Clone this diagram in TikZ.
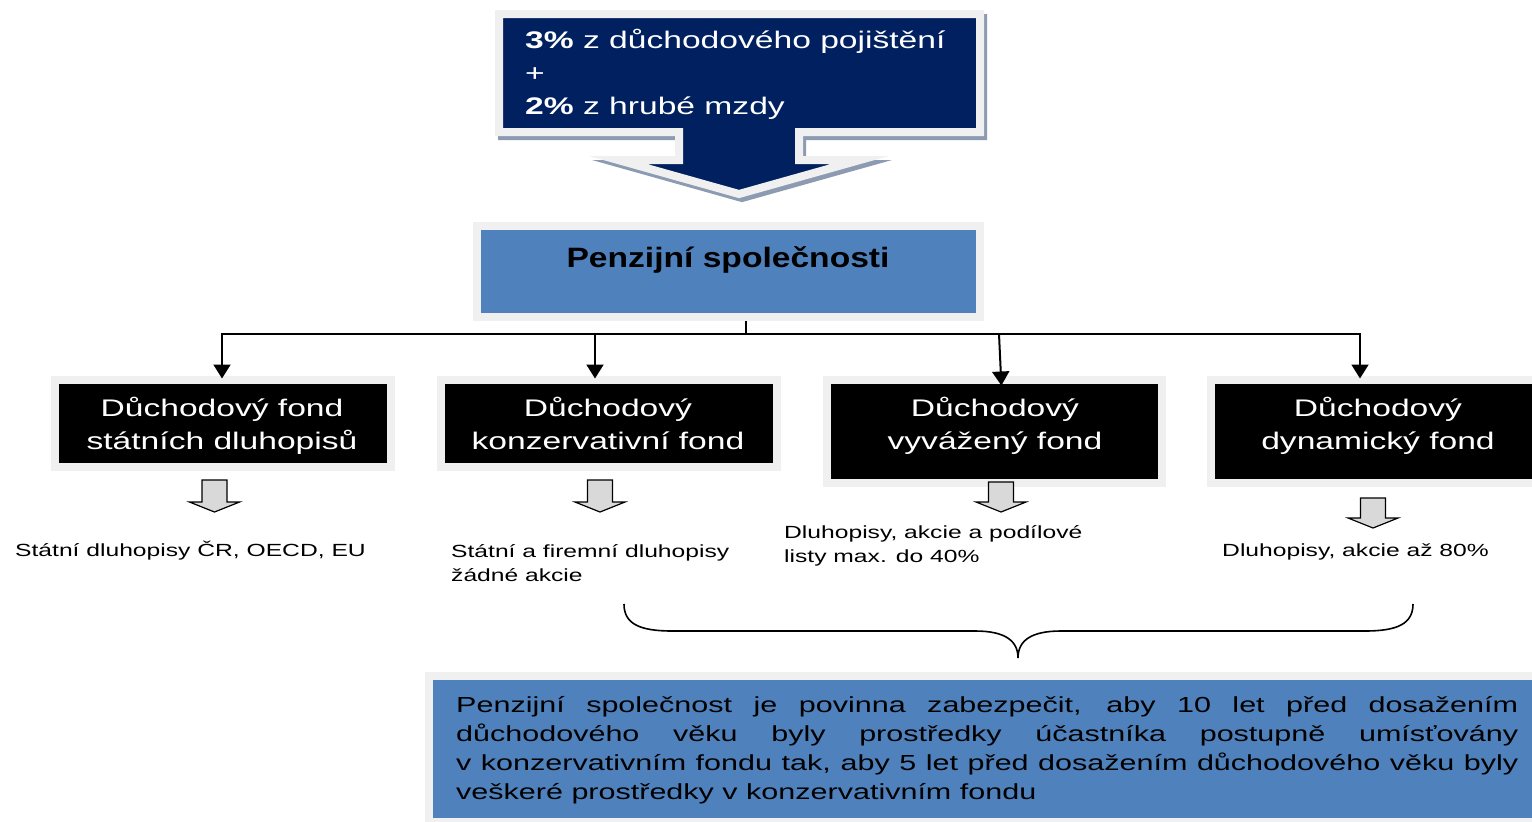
\documentclass[tikz,border=0pt]{standalone}
\usepackage{fontspec}
\setmainfont{Liberation Sans}[FakeStretch=1.4]
\newfontfamily\psfont{Liberation Sans}[FakeStretch=1.2]
\usetikzlibrary{arrows.meta,calc,backgrounds}
\definecolor{navy}{RGB}{0,32,96}
\definecolor{pblue}{RGB}{79,129,189}
\definecolor{framegray}{RGB}{240,240,240}
\definecolor{bshadow}{RGB}{140,154,178}
\definecolor{gshadow}{RGB}{165,165,165}
\definecolor{agray}{RGB}{217,217,217}
\newcommand\fstrut{\rule[-6pt]{0pt}{26pt}}
\tikzset{
  fundbox/.style={draw=framegray, line width=8pt, fill=black, inner sep=0pt},
  bluebox/.style={draw=framegray, line width=8pt, fill=pblue, inner sep=0pt},
  fundtext/.style={text=white, align=center, inner sep=0pt, font=\fontsize{24}{33}\selectfont},
  smalltext/.style={anchor=west, align=left, inner sep=0pt, font=\fontsize{17.6}{24}\selectfont},
  conn/.style={line width=2pt, draw=black},
  arr/.style={conn, -{Triangle[width=17pt,length=14pt]}, shorten >=-3pt},
  harrow/.style={draw=black, line width=1.2pt, fill=agray, line join=miter},
}
\newcommand\hollowarrow[3]{%
  \draw[harrow] (#1-12.5,#2) -- (#1+12.5,#2) -- (#1+12.5,#3-10) -- (#1+25,#3-10)
    -- (#1,#3) -- (#1-25,#3-10) -- (#1-12.5,#3-10) -- cycle;}
\begin{document}
\begin{tikzpicture}[x=1pt,y=-1pt]
\useasboundingbox (0,0) rectangle (1532,822);
\clip (0,0) rectangle (1532,822);
\fill[white] (0,0) rectangle (1532,822);

% top block arrow
\filldraw[bshadow, line width=8pt, shift={(3,4)}]
  (499,14) -- (980,14) -- (980,132) -- (799,132) -- (799,160) -- (860,160)
  -- (739,194) -- (618,160) -- (679,160) -- (679,132) -- (499,132) -- cycle;
\filldraw[fill=navy, draw=framegray, line width=8pt]
  (499,14) -- (980,14) -- (980,132) -- (799,132) -- (799,160) -- (860,160)
  -- (739,194) -- (618,160) -- (679,160) -- (679,132) -- (499,132) -- cycle;
\node[anchor=west, align=left, text=white, inner sep=0pt,
      font=\fontsize{24}{33}\selectfont] (src) at (525,74)
  {\textbf{3\%} z důchodového pojištění\\+\\\textbf{2\%} z hrubé mzdy};

% pension companies
\node[bluebox, minimum width=503pt, minimum height=91pt] (ps) at (728.5,271.5) {};
\node[inner sep=0pt, font=\psfont\bfseries\fontsize{28}{32}\selectfont] (pst) at (728,260) {Penzijní společnosti};

% funds
\node[fundbox, minimum width=336pt, minimum height=87pt] (f1) at (223,423) {};
\node[fundbox, minimum width=335.5pt, minimum height=87pt] (f2) at (608.75,423) {};
\node[fundbox, minimum width=335.5pt, minimum height=103pt] (f3) at (994.25,431) {};
\node[fundbox, minimum width=335pt, minimum height=103pt] (f4) at (1378.5,431) {};
\node[fundtext] (f1t) at (222,425.5) {\fstrut Důchodový fond\\\fstrut státních dluhopisů};
\node[fundtext] (f2t) at (608,425.5) {\fstrut Důchodový\\\fstrut konzervativní fond};
\node[fundtext] (f3t) at (995,425.5) {\fstrut Důchodový\\\fstrut vyvážený fond};
\node[fundtext] (f4t) at (1378,425.5) {\fstrut Důchodový\\\fstrut dynamický fond};

% bottom note
\node[bluebox, minimum width=1117pt, minimum height=146pt] (nb) at (987.5,749) {};
\node[anchor=north west, align=left, inner sep=0pt,
      font=\fontsize{21.8}{29}\selectfont] (note) at (456,696)
  {\makebox[1062pt][s]{Penzijní společnost je povinna zabezpečit, aby 10 let před dosažením}\\
   \makebox[1062pt][s]{důchodového věku byly prostředky účastníka postupně umísťovány}\\
   \makebox[1062pt][s]{v konzervativním fondu tak, aby 5 let před dosažením důchodového věku byly}\\
   veškeré prostředky v konzervativním fondu};

% shadows
\begin{pgfonlayer}{background}
  \fill[bshadow] ($(ps.north west)+(3,3)$) rectangle ($(ps.south east)+(3,3)$);
  \foreach \f in {f1,f2,f3,f4}
    \fill[gshadow] ($(\f.north west)+(3,3)$) rectangle ($(\f.south east)+(3,3)$);
\end{pgfonlayer}

% connectors
\coordinate (j) at (746,334);
\coordinate (b1) at (222,334);
\coordinate (b2) at (595,334);
\coordinate (b3) at (999,334);
\coordinate (b4) at (1360,334);
\draw[conn] (ps.south -| j) -- (j);
\draw[conn] ([xshift=-1pt]b1) -- ([xshift=1pt]b4);
\draw[arr] (b1) -- (b1 |- f1.north);
\draw[arr] (b2) -- (b2 |- f2.north);
\draw[arr] (b3) -- ([shift={(7,7)}]f3.north);
\draw[arr] (b4) -- (b4 |- f4.north);

% hollow arrows
\hollowarrow{214.5}{480}{512}
\hollowarrow{600}{480}{512}
\hollowarrow{1001}{482}{512}
\hollowarrow{1373}{498}{528}

% descriptions
\node[smalltext] (d1) at (15,551) {Státní dluhopisy ČR, OECD, EU};
\node[smalltext] (d2) at (451,565) {\rule[-5pt]{0pt}{19pt}Státní a firemní dluhopisy\\\rule[-5pt]{0pt}{19pt}žádné akcie};
\node[smalltext] (d3) at (784,546) {\rule[-5pt]{0pt}{19pt}Dluhopisy, akcie a podílové\\\rule[-5pt]{0pt}{19pt}listy max. do 40\%};
\node[smalltext] (d4) at (1222,552) {Dluhopisy, akcie až 80\%};

% brace
\coordinate (bl) at (624,604);
\coordinate (br) at (1413,604);
\coordinate (bt) at (1018,658);
\draw[line width=1.6pt] (bl) .. controls (624,624) and (640,631) .. (672,631)
  -- (975,631) .. controls (1004,631) and (1018,640) .. (bt)
  .. controls (1018,640) and (1032,631) .. (1061,631)
  -- (1365,631) .. controls (1397,631) and (1413,624) .. (br);
\end{tikzpicture}
\end{document}
